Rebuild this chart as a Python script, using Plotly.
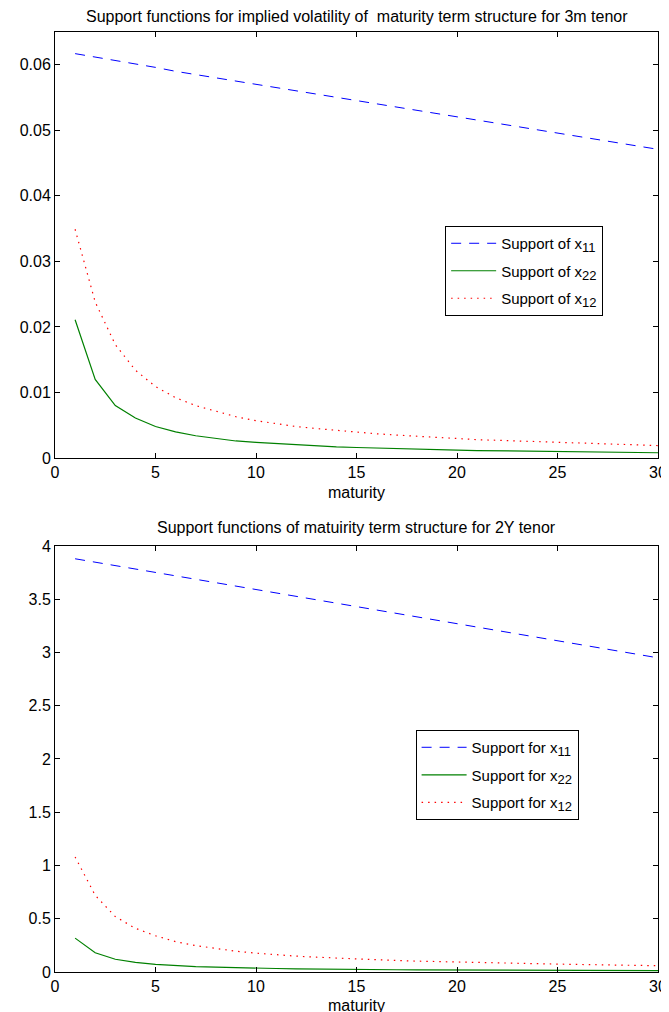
import plotly.graph_objects as go

maturity = list(range(1, 31))

# Top panel: 3m tenor
top_x11 = [0.0617, 0.0612, 0.0606, 0.0601, 0.0596, 0.0590, 0.0585, 0.0580, 0.0575, 0.0570,
           0.0565, 0.0560, 0.0555, 0.0550, 0.0545, 0.0540, 0.0535, 0.0530, 0.0525, 0.0520,
           0.0515, 0.0510, 0.0505, 0.0500, 0.0495, 0.0491, 0.0486, 0.0481, 0.0476, 0.0471]
top_x22 = [0.0211, 0.0120, 0.0080, 0.0061, 0.0048, 0.0040, 0.0034, 0.0030, 0.0026, 0.0024,
           0.0022, 0.0020, 0.0018, 0.0017, 0.0016, 0.0015, 0.0014, 0.0013, 0.00125, 0.0012,
           0.00114, 0.00109, 0.00104, 0.00100, 0.00096, 0.00092, 0.00089, 0.00086, 0.00083, 0.00080]
top_x12 = [0.0349, 0.0238, 0.0173, 0.0134, 0.0109, 0.0092, 0.0080, 0.0071, 0.0063, 0.0057,
           0.0052, 0.0048, 0.0045, 0.0042, 0.0039, 0.0037, 0.0035, 0.0033, 0.0031, 0.0030,
           0.0028, 0.0027, 0.0026, 0.0025, 0.0024, 0.0023, 0.0022, 0.0021, 0.0020, 0.0019]

# Bottom panel: 2Y tenor
bot_x11 = [3.880, 3.848, 3.815, 3.783, 3.750, 3.718, 3.686, 3.654, 3.622, 3.590,
           3.558, 3.526, 3.494, 3.462, 3.430, 3.398, 3.366, 3.334, 3.302, 3.270,
           3.238, 3.206, 3.174, 3.142, 3.110, 3.078, 3.046, 3.014, 2.982, 2.950]
bot_x22 = [0.318, 0.180, 0.120, 0.091, 0.072, 0.060, 0.051, 0.045, 0.039, 0.036,
           0.033, 0.030, 0.027, 0.025, 0.024, 0.022, 0.021, 0.020, 0.019, 0.018,
           0.017, 0.016, 0.016, 0.015, 0.014, 0.014, 0.013, 0.013, 0.012, 0.012]
bot_x12 = [1.080, 0.720, 0.520, 0.410, 0.340, 0.285, 0.248, 0.220, 0.195, 0.177,
           0.161, 0.149, 0.139, 0.130, 0.121, 0.114, 0.108, 0.102, 0.097, 0.093,
           0.087, 0.084, 0.081, 0.078, 0.074, 0.071, 0.068, 0.065, 0.062, 0.059]

top_title = "Support functions for implied volatility of \u00a0maturity term structure for 3m tenor"
bot_title = "Support functions of matuirity term structure for 2Y tenor"
SUB = '<sub><span style="font-size:13px">%s</span></sub>'
top_names = ["Support of x" + SUB % "11", "Support of x" + SUB % "22", "Support of x" + SUB % "12"]
bot_names = ["Support for x" + SUB % "11", "Support for x" + SUB % "22", "Support for x" + SUB % "12"]

FONT = "Liberation Sans, Arial, Helvetica, sans-serif"
styles = [dict(color="#0000FF", width=1, dash="10px,8px"),
          dict(color="#008000", width=1.2),
          dict(color="#FF0000", width=1.2, dash="1.5px,5px")]

fig = go.Figure()
for i, (ys, nm) in enumerate(zip([top_x11, top_x22, top_x12], top_names)):
    fig.add_trace(go.Scatter(x=maturity, y=ys, mode="lines", name=nm, line=styles[i],
                             xaxis="x", yaxis="y", legend="legend", legendgroup="t%d" % i))
for i, (ys, nm) in enumerate(zip([bot_x11, bot_x22, bot_x12], bot_names)):
    fig.add_trace(go.Scatter(x=maturity, y=ys, mode="lines", name=nm, line=styles[i],
                             xaxis="x2", yaxis="y2", legend="legend2", legendgroup="b%d" % i))

axis_common = dict(showline=True, linecolor="black", linewidth=1, mirror="ticks",
                   ticks="inside", ticklen=5, tickcolor="black", showgrid=False,
                   zeroline=False, tickfont=dict(family=FONT, size=16, color="black"))

fig.update_layout(
    width=669, height=1012,
    margin=dict(l=47, r=10, t=24, b=48),
    paper_bgcolor="white", plot_bgcolor="white",
    font=dict(family=FONT, size=16, color="black"),
    xaxis=dict(domain=[0, 1], range=[0, 30], dtick=5, anchor="y", **axis_common),
    yaxis=dict(domain=[0.5468, 1], range=[0, 0.065], dtick=0.01, anchor="x", **axis_common),
    xaxis2=dict(domain=[0, 1], range=[0, 30], dtick=5, anchor="y2", **axis_common),
    yaxis2=dict(domain=[0, 0.4532], range=[0, 4], dtick=0.5, anchor="x2", **axis_common),
    legend=dict(x=0.647, y=0.7936, xanchor="left", yanchor="top",
                bordercolor="black", borderwidth=1, bgcolor="white", itemwidth=45,
                tracegroupgap=5, font=dict(family=FONT, size=15, color="black")),
    legend2=dict(x=0.598, y=0.2574, xanchor="left", yanchor="top",
                 bordercolor="black", borderwidth=1, bgcolor="white", itemwidth=45,
                 tracegroupgap=5, font=dict(family=FONT, size=15, color="black")),
    showlegend=True,
    annotations=[
        dict(text=top_title, xref="paper", yref="paper", x=0.5, y=1, yanchor="bottom",
             yshift=5, showarrow=False, font=dict(family=FONT, size=16)),
        dict(text=bot_title, xref="paper", yref="paper", x=0.5, y=0.4532, yanchor="bottom",
             yshift=8, showarrow=False, font=dict(family=FONT, size=16)),
        dict(text="maturity", xref="paper", yref="paper", x=0.5, y=0.5468, yanchor="top",
             yshift=-24, showarrow=False, font=dict(family=FONT, size=16)),
        dict(text="maturity", xref="paper", yref="paper", x=0.5, y=0, yanchor="top",
             yshift=-23, showarrow=False, font=dict(family=FONT, size=16)),
    ],
)

fig.write_html("out.html")
